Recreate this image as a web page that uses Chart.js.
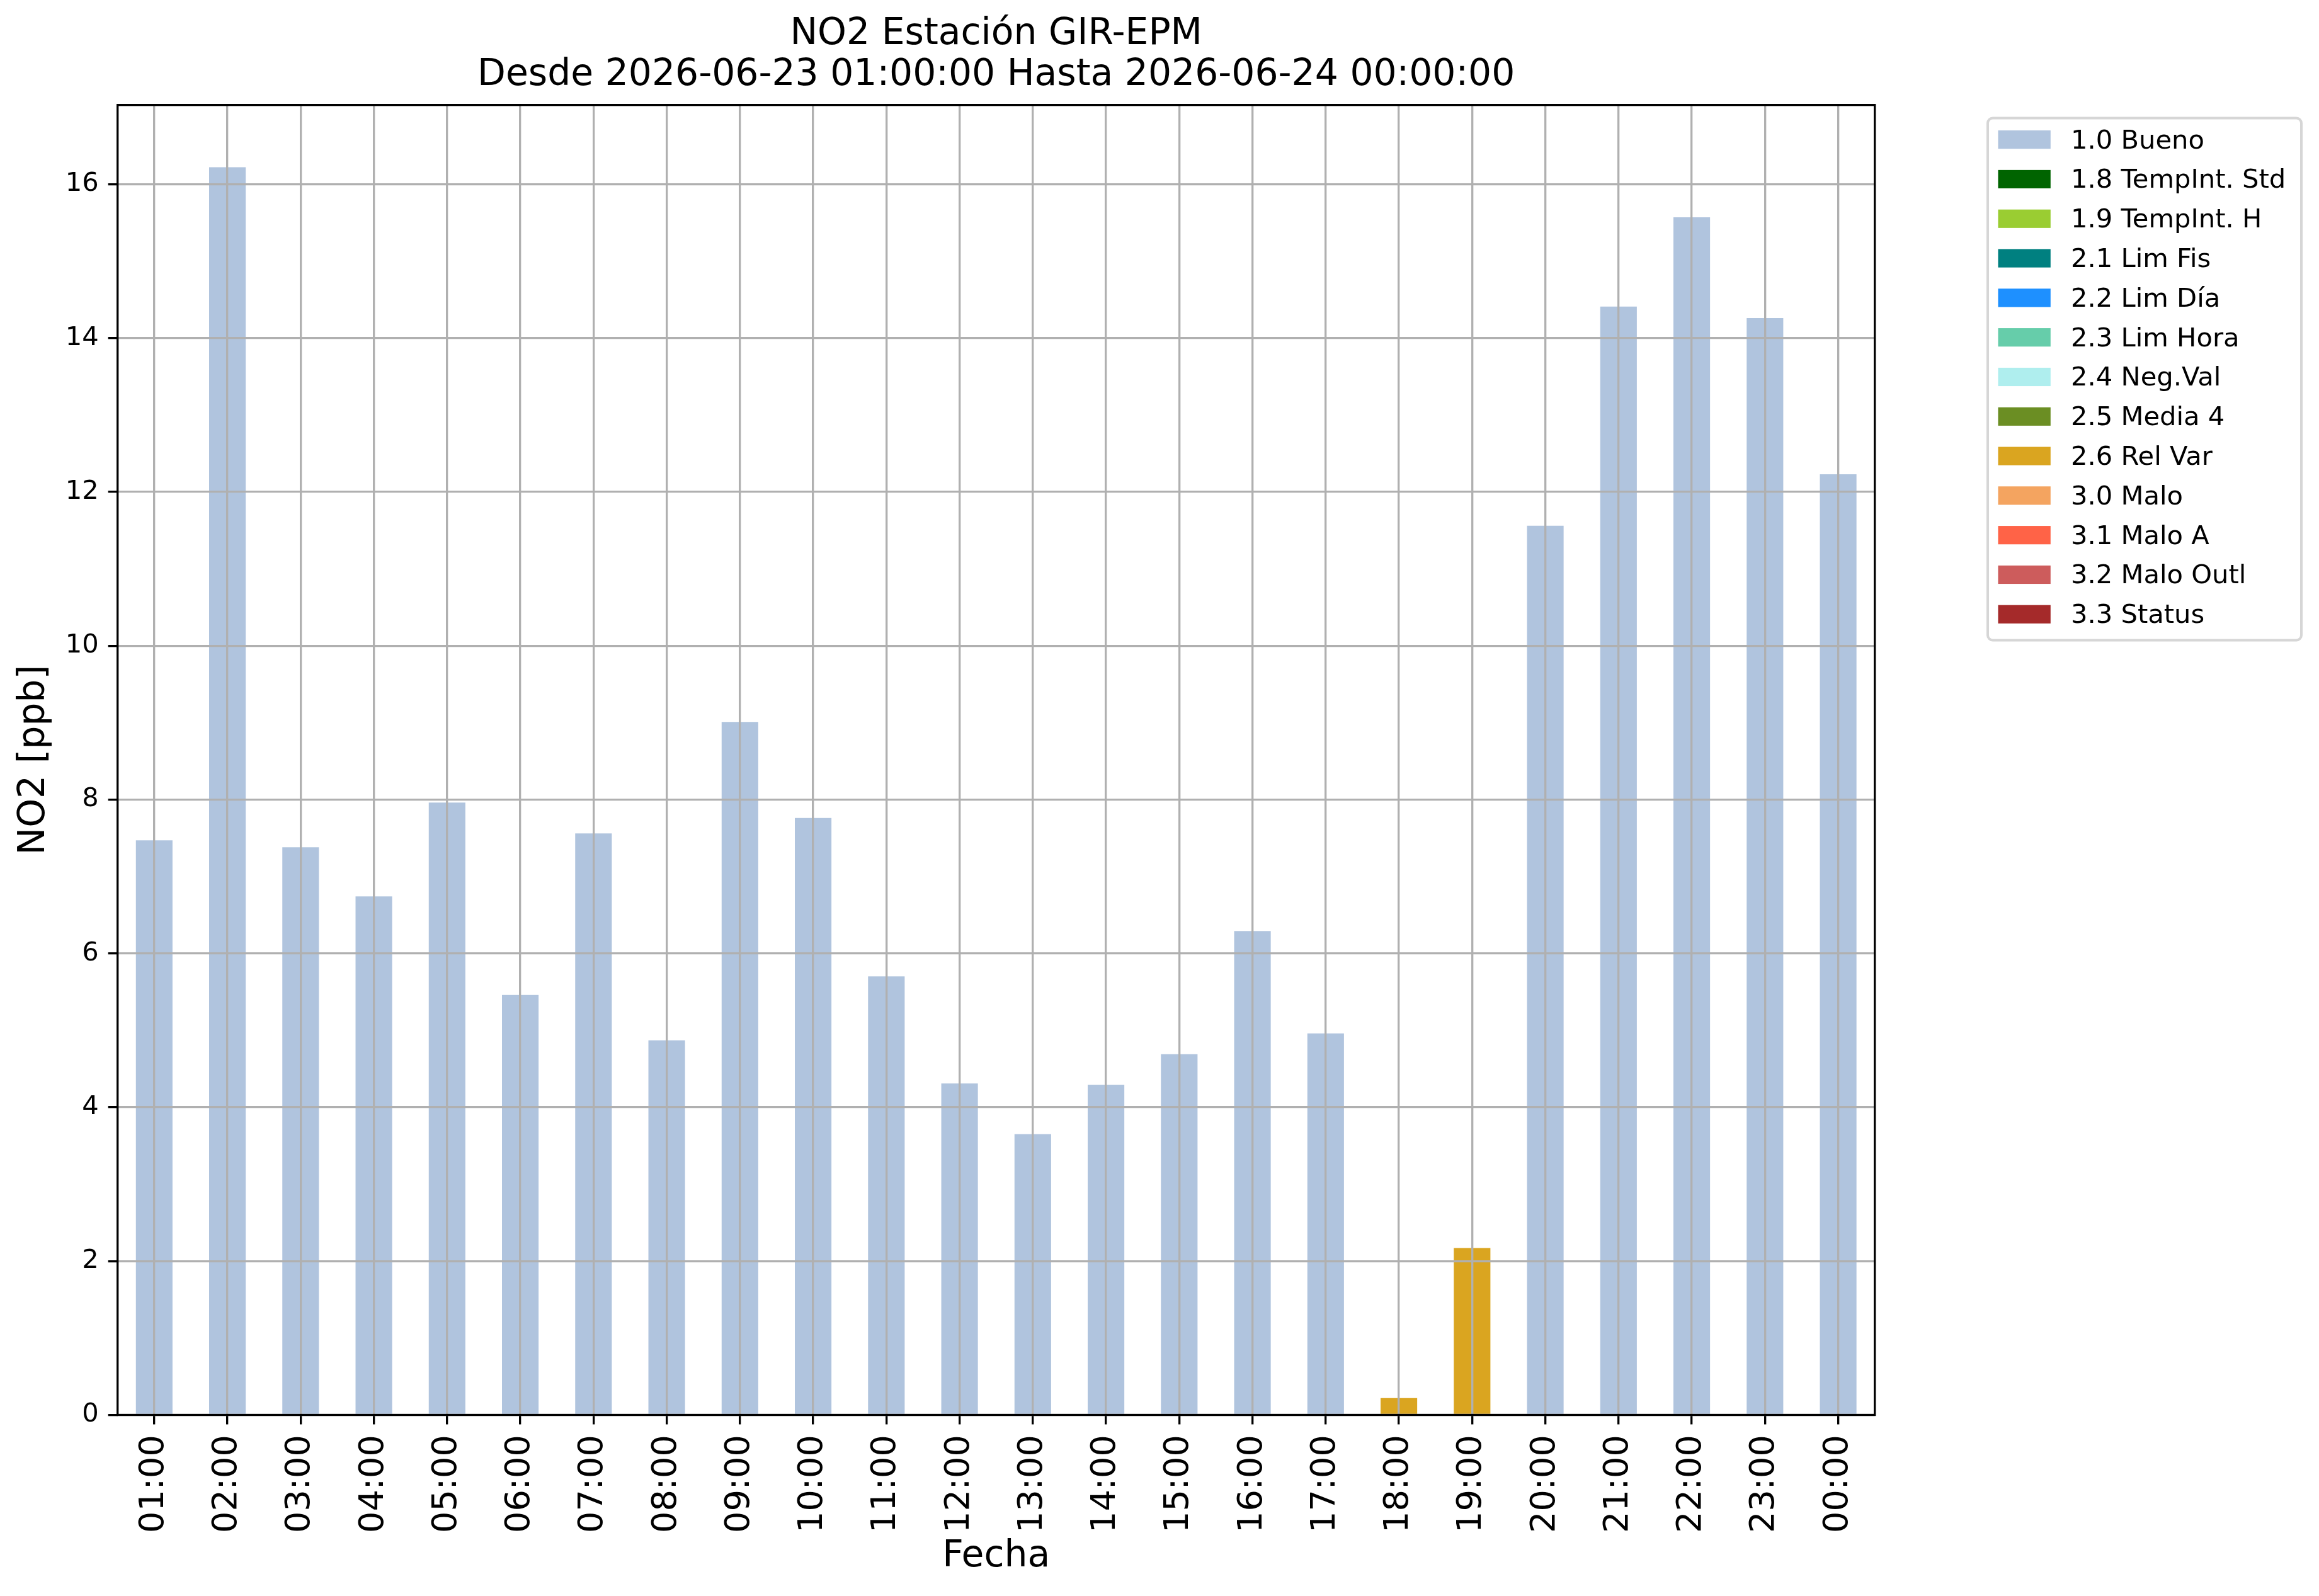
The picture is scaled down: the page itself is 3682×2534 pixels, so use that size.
<!DOCTYPE html>
<html>
<head>
<meta charset="utf-8">
<script src="https://cdn.jsdelivr.net/npm/chart.js@4.4.1/dist/chart.umd.min.js"></script>
<style>
  html, body { margin: 0; padding: 0; background: #ffffff; }
  canvas { display: block; }
</style>
</head>
<body>
<canvas id="chart" width="3682" height="2534" style="width:3682px;height:2534px"></canvas>
<script>
// ---------------- data ----------------
const titleLines = ['NO2 Estación GIR-EPM', 'Desde 2026-06-23 01:00:00 Hasta 2026-06-24 00:00:00'];
const xAxisTitle = 'Fecha';
const yAxisTitle = 'NO2 [ppb]';

const hours = ['01:00','02:00','03:00','04:00','05:00','06:00','07:00','08:00','09:00','10:00','11:00','12:00',
               '13:00','14:00','15:00','16:00','17:00','18:00','19:00','20:00','21:00','22:00','23:00','00:00'];

const no2Values = [7.47, 16.22, 7.38, 6.74, 7.96, 5.46, 7.56, 4.87, 9.01, 7.76, 5.70, 4.31,
                   3.65, 4.29, 4.69, 6.29, 4.96, 0.22, 2.17, 11.56, 14.41, 15.57, 14.26, 12.23];

const hourFlags = ['1.0','1.0','1.0','1.0','1.0','1.0','1.0','1.0','1.0','1.0','1.0','1.0',
                   '1.0','1.0','1.0','1.0','1.0','2.6','2.6','1.0','1.0','1.0','1.0','1.0'];

const flagCodes = ['1.0','1.8','1.9','2.1','2.2','2.3','2.4','2.5','2.6','3.0','3.1','3.2','3.3'];
const flagNames = ['Bueno','TempInt. Std','TempInt. H','Lim Fis','Lim Día','Lim Hora','Neg.Val',
                   'Media 4','Rel Var','Malo','Malo A','Malo Outl','Status'];

const yTickValues = [0, 2, 4, 6, 8, 10, 12, 14, 16];
const yAxisMin = 0;
const yAxisMax = 17.03;

// ---------------- styles ----------------
const flagColors = ['#B0C4DE','#006400','#9ACD32','#008080','#1E90FF','#66CDAA','#AFEEEE',
                    '#6B8E23','#DAA520','#F4A460','#FF6347','#CD5C5C','#A52A2A'];
const FONT = '"DejaVu Sans", "Liberation Sans", sans-serif';
const PT = 300 / 72;               // figure rendered at 300 dpi
const GRID_COLOR = '#b0b0b0';
const LINE_W = 0.8 * PT;

// ---------------- datasets ----------------
const datasets = flagCodes.map((code, k) => ({
  label: code + ' ' + flagNames[k],
  data: no2Values.map((v, i) => hourFlags[i] === code ? v : null),
  backgroundColor: flagColors[k],
  borderWidth: 0,
  barPercentage: 0.5,
  categoryPercentage: 1.0
}));

// ---------------- plugins ----------------
const frameAndLegend = {
  id: 'frameAndLegend',
  afterDraw(chart) {
    const { ctx, chartArea } = chart;
    ctx.save();
    // axes frame (spines)
    ctx.strokeStyle = '#000000';
    ctx.lineWidth = LINE_W;
    ctx.strokeRect(chartArea.left, chartArea.top, chartArea.right - chartArea.left, chartArea.bottom - chartArea.top);

    // legend box
    const fs = 10 * PT;
    const rowH = 62.8;
    const left = chartArea.right + 179.3;
    const top = chartArea.top + 20.8;
    const w = 498, h = 829;
    ctx.fillStyle = 'rgba(255,255,255,0.8)';
    ctx.strokeStyle = '#d6d6d6';
    ctx.lineWidth = 4;
    ctx.beginPath();
    ctx.roundRect(left, top, w, h, 8);
    ctx.fill();
    ctx.stroke();
    ctx.font = fs + 'px ' + FONT;
    ctx.textAlign = 'left';
    ctx.textBaseline = 'alphabetic';
    chart.data.datasets.forEach((d, i) => {
      const cy = top + 34.2 + i * rowH;
      ctx.fillStyle = d.backgroundColor;
      ctx.fillRect(left + 16.5, cy - 14.6, 83.3, 29.2);
      ctx.fillStyle = '#000000';
      ctx.fillText(d.label, left + 132, cy + 14);
    });
    ctx.restore();
  }
};

Chart.defaults.color = '#000000';
Chart.defaults.font.family = FONT;

new Chart(document.getElementById('chart'), {
  type: 'bar',
  data: { labels: hours, datasets: datasets },
  options: {
    responsive: false,
    animation: false,
    devicePixelRatio: 1,
    layout: { padding: { left: 0, top: 0, right: 705.3, bottom: 0 } },
    plugins: {
      legend: { display: false },
      tooltip: { enabled: false },
      title: {
        display: true,
        fullSize: false,
        text: titleLines,
        color: '#000000',
        font: { family: FONT, size: 14 * PT, weight: 'normal', lineHeight: 1.114 },
        padding: { top: 22.3, bottom: 14.4 }
      }
    },
    scales: {
      x: {
        stacked: true,
        offset: true,
        grid: {
          z: 1,
          offset: false,
          color: GRID_COLOR,
          lineWidth: LINE_W,
          drawTicks: true,
          tickLength: 15,
          tickColor: '#000000',
          tickWidth: LINE_W
        },
        border: { display: false, z: 1 },
        ticks: {
          z: 1,
          autoSkip: false,
          minRotation: 90,
          maxRotation: 90,
          padding: 16.5,
          color: '#000000',
          font: { family: FONT, size: 13 * PT }
        },
        title: {
          display: true,
          text: xAxisTitle,
          color: '#000000',
          font: { family: FONT, size: 14 * PT, lineHeight: 1.2 },
          padding: { top: 0, bottom: 27.2 }
        },
        afterFit(scale) {
          scale.height = 287.5;
          scale.paddingLeft = 0;
          scale.paddingRight = 0;
        }
      },
      y: {
        stacked: true,
        min: yAxisMin,
        max: yAxisMax,
        grid: {
          z: 1,
          color: GRID_COLOR,
          lineWidth: LINE_W,
          drawTicks: true,
          tickLength: 15,
          tickColor: '#000000',
          tickWidth: LINE_W
        },
        border: { display: false, z: 1 },
        afterBuildTicks(scale) {
          scale.ticks = yTickValues.map(v => ({ value: v }));
        },
        ticks: {
          z: 1,
          padding: 15,
          color: '#000000',
          font: { family: FONT, size: 10 * PT },
          callback: (v) => String(v)
        },
        title: {
          display: true,
          text: yAxisTitle,
          color: '#000000',
          font: { family: FONT, size: 14 * PT, lineHeight: 1.2 },
          padding: { top: 20, bottom: 0 }
        },
        afterFit(scale) {
          scale.width = 186.7;
          scale.paddingTop = 0;
          scale.paddingBottom = 0;
        }
      }
    }
  },
  plugins: [frameAndLegend]
});
</script>
</body>
</html>
